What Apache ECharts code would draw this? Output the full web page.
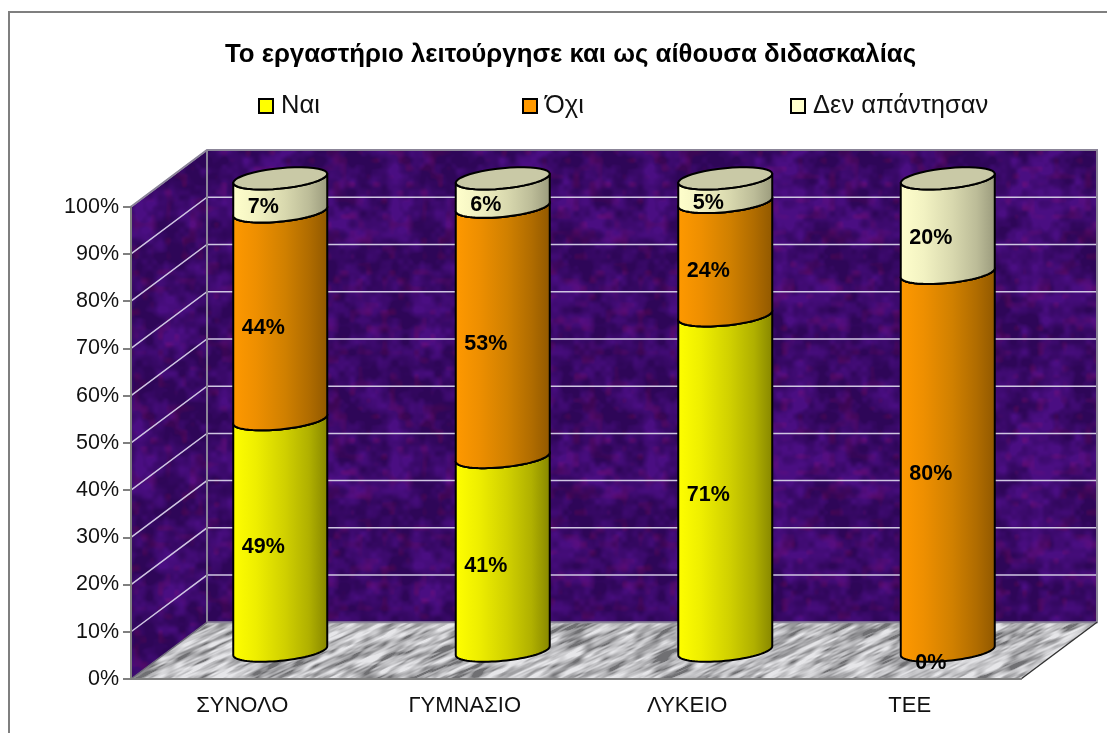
<!DOCTYPE html>
<html><head><meta charset="utf-8">
<style>html,body{margin:0;padding:0;background:#fff}#c{width:1107px;height:733px}</style>
<script src="https://cdn.jsdelivr.net/npm/echarts@6/dist/echarts.min.js"></script>
</head><body><div id="c"></div>
<script>
const titleText = 'Το εργαστήριο λειτούργησε και ως αίθουσα διδασκαλίας';
const categories = ['ΣΥΝΟΛΟ', 'ΓΥΜΝΑΣΙΟ', 'ΛΥΚΕΙΟ', 'ΤΕΕ'];
const nai = [49, 41, 71, 0];
const ochi = [44, 53, 24, 80];
const denApantisan = [7, 6, 5, 20];
const gridTicks = [10, 20, 30, 40, 50, 60, 70, 80, 90, 100];

const DX = 76, DY = -56.7;

function rng(seed){return function(){seed|=0;seed=seed+0x6D2B79F5|0;let t=Math.imul(seed^seed>>>15,1|seed);t=t+Math.imul(t^t>>>7,61|t)^t;return((t^t>>>14)>>>0)/4294967296;};}
function noiseLayer(px, py, shv, seed){
  const r = rng(seed), L = new Float32Array(px*py);
  for(let i=0;i<L.length;i++) L[i]=r();
  const s = t=>t*t*(3-2*t);
  return function(fx,fy){
    const u = fx*px, v = fy*py + shv*fx;
    const iu=Math.floor(u), iv=Math.floor(v), a=s(u-iu), b=s(v-iv);
    const g=(i,j)=>L[((j%py+py)%py)*px+((i%px+px)%px)];
    return (g(iu,iv)*(1-a)+g(iu+1,iv)*a)*(1-b)+(g(iu,iv+1)*(1-a)+g(iu+1,iv+1)*a)*b;
  };
}
function makeTile(w,h,layers,colorFn){
  const c=document.createElement('canvas');c.width=w;c.height=h;
  const x=c.getContext('2d'),im=x.createImageData(w,h);
  for(let j=0;j<h;j++)for(let i=0;i<w;i++){
    const col=colorFn(layers,i/w,j/h),k=(j*w+i)*4;
    im.data[k]=col[0];im.data[k+1]=col[1];im.data[k+2]=col[2];im.data[k+3]=255;
  }
  x.putImageData(im,0,0);return c;
}
const wallTile = makeTile(256,256,[noiseLayer(24,24,0,11),noiseLayer(48,48,0,12),noiseLayer(9,9,0,13),noiseLayer(32,32,0,14)],
  (l,u,v)=>{
    const n=Math.max(0,Math.min(1,(0.45*l[0](u,v)+0.2*l[1](u,v)+0.35*l[2](u,v)-0.28)/0.44));
    const red=Math.max(0,l[3](u,v)-0.6)*1.5;
    return [46+28*n+36*red, 6+8*n, 88+42*n-8*red];
  });
const floorTile = makeTile(1107,128,[noiseLayer(60,32,125,21),noiseLayer(130,72,281,22),noiseLayer(30,16,62,23)],
  (l,u,v)=>{
    const n=Math.max(0,Math.min(1,(0.5*l[0](u,v)+0.3*l[1](u,v)+0.2*l[2](u,v)-0.27)/0.44));
    const g=112+118*Math.pow(n,0.7);
    return [g,g,g+3];
  });

function scene(params, api){
  const cs=params.coordSys, x0=cs.x, x1=cs.x+cs.width, yT=cs.y, y0=cs.y+cs.height;
  const kids=[
    {type:'rect',shape:{x:x0+DX,y:yT+DY,width:x1-x0,height:y0-yT},style:{fill:{image:wallTile,repeat:'repeat'}}},
    {type:'polygon',shape:{points:[[x0,y0],[x0+DX,y0+DY],[x0+DX,yT+DY],[x0,yT]]},style:{fill:{image:wallTile,repeat:'repeat'}}},
    {type:'polygon',shape:{points:[[x0,y0],[x1,y0],[x1+DX,y0+DY],[x0+DX,y0+DY]]},style:{fill:{image:floorTile,repeat:'repeat'}}}
  ];
  gridTicks.forEach(t=>{
    const y=api.coord([0,t])[1];
    kids.push({type:'polyline',shape:{points:[[x0,y],[x0+DX,y+DY],[x1+DX,y+DY]]},style:{fill:null,stroke:'#cfc6e2',lineWidth:1.5}});
  });
  kids.push({type:'polyline',shape:{points:[[x0,yT],[x0+DX,yT+DY],[x1+DX,yT+DY],[x1+DX,y0+DY],[x0+DX,y0+DY],[x0+DX,yT+DY]]},style:{fill:null,stroke:'#8b8598',lineWidth:2}});
  kids.push({type:'polyline',shape:{points:[[x0,y0],[x0+DX,y0+DY]]},style:{fill:null,stroke:'#6d6a78',lineWidth:1.5}});
  kids.push({type:'polyline',shape:{points:[[x1,y0],[x1+DX,y0+DY]]},style:{fill:null,stroke:'#333',lineWidth:1.4}});
  return {type:'group',children:kids};
}

function ringPoints(cx,cy,a,from,to){
  const pts=[],n=40,s=4.5,b=10.2;
  for(let i=0;i<=n;i++){
    const t=from+(to-from)*i/n;
    pts.push([cx+a*Math.cos(t),cy-s*Math.cos(t)-b*Math.sin(t)]);
  }
  return pts;
}
function cylinderSeries(name,values,below,stops,capColor){
  return {
    name,type:'custom',clip:false,z:3,
    itemStyle:{color:stops[0][1],borderColor:'#000',borderWidth:1.5},
    data:values.map((v,i)=>[i,below[i],below[i]+v,v]),
    encode:{x:0,y:2},
    renderItem(params,api){
      const i=api.value(0),lo=api.value(1),hi=api.value(2),v=api.value(3);
      const pLo=api.coord([i,lo]),pHi=api.coord([i,hi]);
      const cx=pLo[0]+DX/2,yLo=pLo[1]+DY/2,yHi=pHi[1]+DY/2;
      const a=api.size([1,0])[0]*0.4225/2;
      const kids=[];
      if(v>0){
        const front=ringPoints(cx,yHi,a,Math.PI,2*Math.PI);
        const back=ringPoints(cx,yLo,a,2*Math.PI,Math.PI);
        kids.push({type:'polygon',shape:{points:front.concat(back)},
          style:{fill:{type:'linear',x:0,y:0,x2:1,y2:0,colorStops:stops.map(s=>({offset:s[0],color:s[1]}))},stroke:'#000',lineWidth:2,lineJoin:'round'}});
        kids.push({type:'polygon',shape:{points:ringPoints(cx,yHi,a,0,2*Math.PI)},style:{fill:capColor,stroke:'#000',lineWidth:2}});
      }
      const mid=api.coord([i,lo+v/2]);
      kids.push({type:'text',z2:200,style:{text:v+'%',x:mid[0]+DX/2-17,y:mid[1]+DY/2+12.5,align:'center',verticalAlign:'middle',
        font:'bold 21.5px "Liberation Sans", Arial, sans-serif',fill:'#000'}});
      return {type:'group',children:kids};
    }
  };
}
const sum2=nai.map((v,i)=>v+ochi[i]);
const yellow=[[0,'#ffff00'],[0.25,'#eeee00'],[0.55,'#d0d000'],[0.8,'#b0b000'],[1,'#858500']];
const orange=[[0,'#ff9900'],[0.25,'#ee8f00'],[0.55,'#d08000'],[0.8,'#b06c00'],[1,'#905800']];
const cream=[[0,'#ffffcc'],[0.25,'#f2f2c2'],[0.55,'#d8d8ae'],[0.8,'#bcbc98'],[1,'#9a9a7c']];

const legendBase={top:88,itemWidth:14,itemHeight:14,icon:'rect',
  textStyle:{fontFamily:'"Liberation Sans", Arial',fontSize:25.5,color:'#111',padding:[0,0,0,3]}};
const chart=echarts.init(document.getElementById('c'),null,{renderer:'canvas'});
chart.setOption({
  animation:false,backgroundColor:'#fff',
  title:{text:titleText,left:565.5,top:37,textAlign:'center',
    textStyle:{fontFamily:'"Liberation Sans", Arial',fontWeight:'bold',fontSize:25.8,color:'#000'}},
  legend:[
    Object.assign({},legendBase,{data:['Ναι'],left:253}),
    Object.assign({},legendBase,{data:['Όχι'],left:517}),
    Object.assign({},legendBase,{data:['Δεν απάντησαν'],left:785})
  ],
  grid:{left:131,right:86,top:206.7,bottom:54},
  xAxis:{type:'category',data:categories,z:4,
    axisLine:{lineStyle:{color:'#808080',width:2}},axisTick:{length:8,lineStyle:{color:'#808080',width:2}},
    axisLabel:{margin:16,fontFamily:'"Liberation Sans", Arial',fontSize:22,color:'#111'},splitLine:{show:false}},
  yAxis:{type:'value',min:0,max:100,interval:10,z:4,
    axisLine:{show:true,lineStyle:{color:'#808080',width:2}},axisTick:{show:true,length:8,lineStyle:{color:'#808080',width:2}},
    axisLabel:{formatter:'{value}%',margin:12,fontFamily:'"Liberation Sans", Arial',fontSize:21.5,color:'#111'},splitLine:{show:false}},
  graphic:[{type:'polyline',z:1,silent:true,shape:{points:[[9,733],[9,12],[1107,12]]},style:{fill:null,stroke:'#7f7f7f',lineWidth:2}}],
  series:[
    {type:'custom',name:'scene',clip:false,z:2,silent:true,data:[[0,0]],renderItem:scene},
    cylinderSeries('Ναι',nai,nai.map(()=>0),yellow,'#cccc00'),
    cylinderSeries('Όχι',ochi,nai,orange,'#cc7a00'),
    cylinderSeries('Δεν απάντησαν',denApantisan,sum2,cream,'#c9c9a6')
  ]
});
</script></body></html>
